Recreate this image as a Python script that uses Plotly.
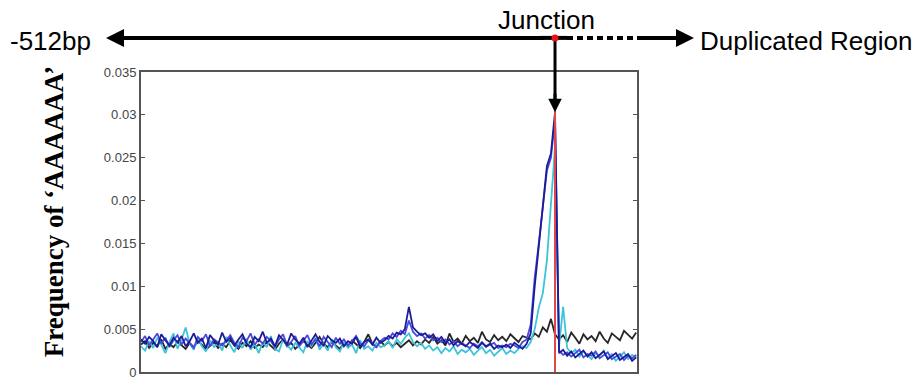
import plotly.graph_objects as go

# Position relative to the duplication junction (bp), 5 bp steps
positions = list(range(-510, 101, 5))

# Frequency of 'AAAAAA' per window, one list per sequence set
navy_freq = [
    0.0038, 0.0033, 0.0041, 0.0036, 0.0029, 0.0044, 0.0037, 0.0031, 0.0040, 0.0035,
    0.0042, 0.0030, 0.0036, 0.0045, 0.0034, 0.0039, 0.0028, 0.0043, 0.0037, 0.0032,
    0.0046, 0.0035, 0.0040, 0.0031, 0.0038, 0.0044, 0.0033, 0.0029, 0.0041, 0.0036,
    0.0047, 0.0034, 0.0039, 0.0030, 0.0043, 0.0037, 0.0032, 0.0045, 0.0038, 0.0033,
    0.0040, 0.0029, 0.0036, 0.0044, 0.0035, 0.0031, 0.0042, 0.0037, 0.0034, 0.0039,
    0.0030, 0.0036, 0.0033, 0.0041, 0.0029, 0.0035, 0.0038, 0.0032, 0.0040, 0.0034,
    0.0037, 0.0042, 0.0039, 0.0046, 0.0044, 0.0050, 0.0076, 0.0052, 0.0047, 0.0043,
    0.0045, 0.0040, 0.0044, 0.0036, 0.0041, 0.0034, 0.0038, 0.0031, 0.0036, 0.0033,
    0.0030, 0.0035, 0.0032, 0.0028, 0.0034, 0.0030, 0.0033, 0.0027, 0.0031, 0.0029,
    0.0032, 0.0028, 0.0034, 0.0030, 0.0027, 0.0033,
    0.0045, 0.0100, 0.0145, 0.0190, 0.0240, 0.0255, 0.0303,
    0.0022, 0.0026, 0.0019, 0.0024, 0.0017, 0.0021, 0.0025, 0.0018, 0.0023, 0.0016,
    0.0020, 0.0024, 0.0015, 0.0019, 0.0022, 0.0014, 0.0018, 0.0021, 0.0013, 0.0017,
]

blue_freq = [
    0.0035, 0.0042, 0.0031, 0.0038, 0.0045, 0.0033, 0.0040, 0.0029, 0.0037, 0.0043,
    0.0032, 0.0039, 0.0034, 0.0028, 0.0041, 0.0036, 0.0044, 0.0030, 0.0038, 0.0035,
    0.0031, 0.0037, 0.0043, 0.0034, 0.0029, 0.0040, 0.0036, 0.0045, 0.0032, 0.0038,
    0.0033, 0.0041, 0.0036, 0.0029, 0.0038, 0.0044, 0.0031, 0.0035, 0.0042, 0.0030,
    0.0037, 0.0043, 0.0032, 0.0038, 0.0030, 0.0041, 0.0035, 0.0029, 0.0040, 0.0033,
    0.0038, 0.0031, 0.0036, 0.0042, 0.0033, 0.0030, 0.0037, 0.0034, 0.0029, 0.0036,
    0.0040, 0.0038, 0.0045, 0.0041, 0.0048, 0.0044, 0.0060, 0.0047, 0.0042, 0.0045,
    0.0039, 0.0043, 0.0037, 0.0040, 0.0035, 0.0038, 0.0032, 0.0036, 0.0030, 0.0034,
    0.0031, 0.0028, 0.0033, 0.0030, 0.0035, 0.0029, 0.0032, 0.0034, 0.0028, 0.0031,
    0.0029, 0.0033, 0.0031, 0.0028, 0.0035, 0.0038,
    0.0055, 0.0110, 0.0150, 0.0195, 0.0235, 0.0250, 0.0295,
    0.0025, 0.0020, 0.0023, 0.0018, 0.0022, 0.0026, 0.0017, 0.0021, 0.0019, 0.0024,
    0.0016, 0.0020, 0.0023, 0.0015, 0.0018, 0.0021, 0.0014, 0.0019, 0.0016, 0.0020,
]

cyan_freq = [
    0.0030, 0.0025, 0.0036, 0.0028, 0.0040, 0.0032, 0.0022, 0.0035, 0.0045, 0.0027,
    0.0038, 0.0052, 0.0033, 0.0026, 0.0040, 0.0030, 0.0024, 0.0037, 0.0029, 0.0034,
    0.0025, 0.0041, 0.0031, 0.0023, 0.0036, 0.0028, 0.0039, 0.0026, 0.0033, 0.0022,
    0.0035, 0.0029, 0.0042, 0.0027, 0.0024, 0.0038, 0.0031, 0.0026, 0.0034, 0.0028,
    0.0023, 0.0036, 0.0030, 0.0040, 0.0026, 0.0033, 0.0025, 0.0038, 0.0029, 0.0024,
    0.0035, 0.0028, 0.0032, 0.0022, 0.0037, 0.0027, 0.0030, 0.0025, 0.0034, 0.0029,
    0.0031, 0.0036, 0.0028, 0.0038, 0.0033, 0.0040, 0.0045, 0.0035, 0.0030, 0.0034,
    0.0027, 0.0031, 0.0025, 0.0029, 0.0022, 0.0028, 0.0024, 0.0030, 0.0021, 0.0026,
    0.0023, 0.0027, 0.0020, 0.0025, 0.0029, 0.0022, 0.0026, 0.0019, 0.0024, 0.0028,
    0.0021, 0.0025, 0.0022, 0.0027, 0.0030, 0.0028,
    0.0035, 0.0050, 0.0075, 0.0092, 0.0130, 0.0195, 0.0262,
    0.0030, 0.0076, 0.0028, 0.0022, 0.0026, 0.0018, 0.0024, 0.0020, 0.0015, 0.0022,
    0.0019, 0.0025, 0.0016, 0.0021, 0.0013, 0.0018, 0.0023, 0.0015, 0.0020, 0.0017,
]

black_freq = [
    0.0032, 0.0036, 0.0028, 0.0034, 0.0030, 0.0038, 0.0027, 0.0033, 0.0029, 0.0035,
    0.0031, 0.0027, 0.0034, 0.0029, 0.0036, 0.0032, 0.0026, 0.0030, 0.0035, 0.0028,
    0.0033, 0.0029, 0.0037, 0.0031, 0.0027, 0.0034, 0.0030, 0.0036, 0.0028, 0.0032,
    0.0029, 0.0035, 0.0031, 0.0026, 0.0033, 0.0038, 0.0030, 0.0034, 0.0027, 0.0031,
    0.0036, 0.0032, 0.0028, 0.0034, 0.0041, 0.0033, 0.0029, 0.0035, 0.0031, 0.0027,
    0.0034, 0.0030, 0.0037, 0.0032, 0.0028, 0.0035, 0.0044, 0.0033, 0.0029, 0.0036,
    0.0031, 0.0035, 0.0030, 0.0034, 0.0029, 0.0033, 0.0037, 0.0031, 0.0036, 0.0032,
    0.0038, 0.0034, 0.0041, 0.0033, 0.0037, 0.0031, 0.0045, 0.0035, 0.0039, 0.0033,
    0.0042, 0.0036, 0.0040, 0.0034, 0.0047, 0.0038, 0.0035, 0.0043, 0.0037, 0.0041,
    0.0036, 0.0044, 0.0039, 0.0035, 0.0042, 0.0040,
    0.0038, 0.0045, 0.0041, 0.0052, 0.0047, 0.0062, 0.0044,
    0.0038, 0.0043, 0.0035, 0.0046, 0.0040, 0.0033, 0.0044, 0.0038, 0.0042, 0.0036,
    0.0047, 0.0039, 0.0034, 0.0045, 0.0041, 0.0037, 0.0048, 0.0043, 0.0039, 0.0046,
]

y_ticks = [0, 0.005, 0.01, 0.015, 0.02, 0.025, 0.03, 0.035]
y_tick_text = ["0", "0.005", "0.01", "0.015", "0.02", "0.025", "0.03", "0.035"]

junction_pos = 0
x_min, x_max = -510, 101

# plot-area geometry in pixels (used to place the arrow decorations above the axes)
W, H = 918, 385
L, R, T, B = 141, 281, 72, 5
PW, PH = W - L - R, H - T - B


def px(xp):
    return (xp - L) / PW


def py(yp):
    return (H - B - yp) / PH


fig = go.Figure()

series = [
    (black_freq, "#262626"),
    (cyan_freq, "#3cc4d8"),
    (blue_freq, "#4a4ae0"),
    (navy_freq, "#1c1c96"),
]
for vals, col in series:
    fig.add_trace(go.Scatter(
        x=positions, y=vals, mode="lines",
        line=dict(color=col, width=1.8),
        showlegend=False, hoverinfo="skip",
    ))

# junction marker line
fig.add_shape(type="line", xref="x", yref="y",
              x0=junction_pos, x1=junction_pos, y0=0, y1=0.035,
              line=dict(color="#e04848", width=2), layer="above")

arrow_y = py(37)

# short solid piece past the junction, then the dotted run into the duplicated region
fig.add_shape(type="line", xref="paper", yref="paper",
              x0=px(540), x1=px(567), y0=arrow_y, y1=arrow_y,
              line=dict(color="black", width=4))
fig.add_shape(type="line", xref="paper", yref="paper",
              x0=px(567), x1=px(642), y0=arrow_y, y1=arrow_y,
              line=dict(color="black", width=4, dash="6px,4px"))
# vertical stem from the junction down to the arrowhead
fig.add_shape(type="line", xref="x", yref="paper",
              x0=junction_pos, x1=junction_pos, y0=arrow_y, y1=py(100),
              line=dict(color="black", width=3))

# red junction dot, on top of the line work
fig.add_shape(type="circle", xref="x", yref="paper",
              xsizemode="pixel", ysizemode="pixel",
              xanchor=junction_pos, yanchor=arrow_y,
              x0=-3.5, x1=3.5, y0=-3.5, y1=3.5,
              fillcolor="#ee1111", line=dict(color="#ee1111", width=0))

text_font = dict(family="Liberation Sans, Arial", size=26, color="black")

annotations = [
    # left arrow toward -512bp
    dict(x=px(106), y=arrow_y, xref="paper", yref="paper", text="",
         showarrow=True, ax=440, ay=0, arrowhead=2, arrowsize=0.9,
         arrowwidth=4, arrowcolor="black"),
    # right arrow toward the duplicated region
    dict(x=px(694), y=arrow_y, xref="paper", yref="paper", text="",
         showarrow=True, ax=-54, ay=0, arrowhead=2, arrowsize=0.9,
         arrowwidth=4, arrowcolor="black"),
    # arrowhead pointing at the peak
    dict(x=junction_pos, y=max(navy_freq), xref="x", yref="y", text="",
         showarrow=True, ax=0, ay=-20, arrowhead=2, arrowsize=0.9,
         arrowwidth=3, arrowcolor="black"),
    dict(x=px(93), y=py(40), xref="paper", yref="paper", text="-512bp",
         showarrow=False, xanchor="right", yanchor="middle", font=text_font),
    dict(x=px(546), y=py(19), xref="paper", yref="paper", text="Junction",
         showarrow=False, xanchor="center", yanchor="middle", font=text_font),
    dict(x=px(698), y=py(40), xref="paper", yref="paper", text="Duplicated Region",
         showarrow=False, xanchor="left", yanchor="middle", font=text_font),
    dict(x=px(54), y=py(216), xref="paper", yref="paper",
         text="<b>Frequency of \u2018AAAAAA\u2019</b>", textangle=-90,
         showarrow=False, xanchor="center", yanchor="middle",
         font=dict(family="Liberation Serif, Times New Roman", size=27, color="black")),
]

fig.update_layout(
    width=W, height=H,
    margin=dict(l=L, r=R, t=T, b=B, pad=0),
    paper_bgcolor="white", plot_bgcolor="white",
    annotations=annotations,
    showlegend=False,
    xaxis=dict(range=[x_min, x_max], showgrid=False, zeroline=False,
               showticklabels=False, ticks="",
               showline=True, linecolor="#555555", linewidth=2, mirror=True),
    yaxis=dict(range=[0, 0.035], tickvals=y_ticks, ticktext=y_tick_text,
               showgrid=False, zeroline=False,
               ticks="inside", ticklen=4, tickcolor="#555555", tickwidth=1,
               showline=True, linecolor="#555555", linewidth=2, mirror="ticks",
               ticklabeloverflow="allow",
               tickfont=dict(family="Liberation Sans, Arial", size=13, color="#444444")),
)

fig.write_html("out.html")
